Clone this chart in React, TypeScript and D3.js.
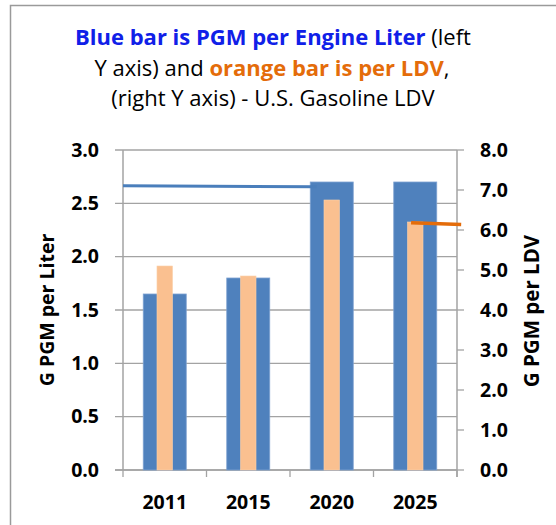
import React from "react";
import * as d3 from "d3";

const categories = ["2011", "2015", "2020", "2025"];
const literValues = [1.65, 1.8, 2.7, 2.7];
const ldvValues = [5.1, 4.85, 6.75, 6.2];
const leftTicks = [0, 0.5, 1.0, 1.5, 2.0, 2.5, 3.0];
const rightTicks = [0, 1, 2, 3, 4, 5, 6, 7, 8];
// line segments: pos in category-index units, value on the matching axis
const blueLinePos = [-0.5, 1.82];
const blueLineVals = [2.665, 2.655];
const orangeLinePos = [2.95, 3.55];
const orangeLineVals = [6.18, 6.14];

const W = 556;
const H = 525;
const M = { left: 123, right: 457, top: 150, bottom: 470 };
const FONT = "'Open Sans', 'Liberation Sans', sans-serif";

export default function App() {
  const x = d3.scaleBand<string>().domain(categories).range([M.left, M.right]).paddingInner(0).paddingOuter(0);
  const xIdx = d3.scaleLinear().domain([-0.5, categories.length - 0.5]).range([M.left, M.right]);
  const yL = d3.scaleLinear().domain([0, 3]).range([M.bottom, M.top]);
  const yR = d3.scaleLinear().domain([0, 8]).range([M.bottom, M.top]);
  const bw = x.bandwidth();
  const blueW = bw * 0.515;
  const orangeW = bw * 0.186;
  const grid = "#a3a3a3";

  const blueLine = d3.line<number>().x((_, i) => xIdx(blueLinePos[i])).y((v) => yL(v));
  const orangeLine = d3.line<number>().x((_, i) => xIdx(orangeLinePos[i])).y((v) => yR(v));

  return (
    <svg width={W} height={H} style={{ position: "absolute", left: 0, top: 0, background: "#fff" }}>
      <rect x={10.5} y={5.5} width={W + 20} height={H + 20} fill="#fff" stroke="#9a9a9a" strokeWidth={1.5} />
      <g fontFamily={FONT} fontSize={22} textAnchor="middle" fill="#000">
        <text x={273} y={45}>
          <tspan fill="#1020e8" fontWeight="bold">Blue bar is PGM per Engine Liter</tspan>
          <tspan> (left</tspan>
        </text>
        <text x={272} y={75.5}>
          <tspan>Y axis) and </tspan>
          <tspan fill="#e46c0a" fontWeight="bold">orange bar is per LDV</tspan>
          <tspan>,</tspan>
        </text>
        <text x={273} y={106}>(right Y axis) - U.S. Gasoline LDV</text>
      </g>
      {/* gridlines */}
      {leftTicks.map((t) => (
        <line key={"g" + t} x1={M.left - 8} x2={M.right} y1={yL(t)} y2={yL(t)} stroke={grid} strokeWidth={1.3} />
      ))}
      {/* right ticks */}
      {rightTicks.map((t) => (
        <line key={"r" + t} x1={M.right} x2={M.right + 7} y1={yR(t)} y2={yR(t)} stroke={grid} strokeWidth={1.3} />
      ))}
      {/* bottom ticks */}
      {d3.range(categories.length + 1).map((i) => (
        <line key={"b" + i} x1={xIdx(i - 0.5)} x2={xIdx(i - 0.5)} y1={M.bottom} y2={M.bottom + 7} stroke={grid} strokeWidth={1.3} />
      ))}
      {/* axes lines */}
      <line x1={M.left} x2={M.left} y1={M.top} y2={M.bottom} stroke={grid} strokeWidth={1.5} />
      <line x1={M.right} x2={M.right} y1={M.top} y2={M.bottom + 7} stroke={grid} strokeWidth={1.5} />
      <line x1={M.left - 8} x2={M.right} y1={M.bottom} y2={M.bottom} stroke={grid} strokeWidth={1.5} />
      {/* bars */}
      {categories.map((c, i) => {
        const cx = (x(c) as number) + bw / 2;
        return (
          <g key={c}>
            <rect x={cx - blueW / 2} y={yL(literValues[i])} width={blueW} height={M.bottom - yL(literValues[i])} fill="#4f81bd" stroke="#7ea2d2" strokeWidth={0.8} />
            <rect x={cx - orangeW / 2} y={yR(ldvValues[i])} width={orangeW} height={M.bottom - yR(ldvValues[i])} fill="#fac090" stroke="#fbd0aa" strokeWidth={0.6} />
          </g>
        );
      })}
      {/* lines */}
      <path d={blueLine(blueLineVals) || ""} fill="none" stroke="#4a7ebb" strokeWidth={3} />
      <path d={orangeLine(orangeLineVals) || ""} fill="none" stroke="#e46c0a" strokeWidth={3.5} />
      {/* tick labels */}
      <g fontFamily={FONT} fontSize={19.5} fontWeight="bold" fill="#000">
        {leftTicks.map((t) => (
          <text key={"lt" + t} x={99} y={yL(t)} dy="0.35em" textAnchor="end">{t.toFixed(1)}</text>
        ))}
        {rightTicks.map((t) => (
          <text key={"rt" + t} x={480} y={yR(t)} dy="0.35em" textAnchor="start">{t.toFixed(1)}</text>
        ))}
        {categories.map((c) => (
          <text key={"xt" + c} x={(x(c) as number) + bw / 2} y={508.5} textAnchor="middle">{c}</text>
        ))}
        <text transform={`translate(54,310) rotate(-90)`} textAnchor="middle" fontSize={19.5}>G PGM per Liter</text>
        <text transform={`translate(539,311) rotate(-90)`} textAnchor="middle" fontSize={20.5}>G PGM per LDV</text>
      </g>
    </svg>
  );
}
